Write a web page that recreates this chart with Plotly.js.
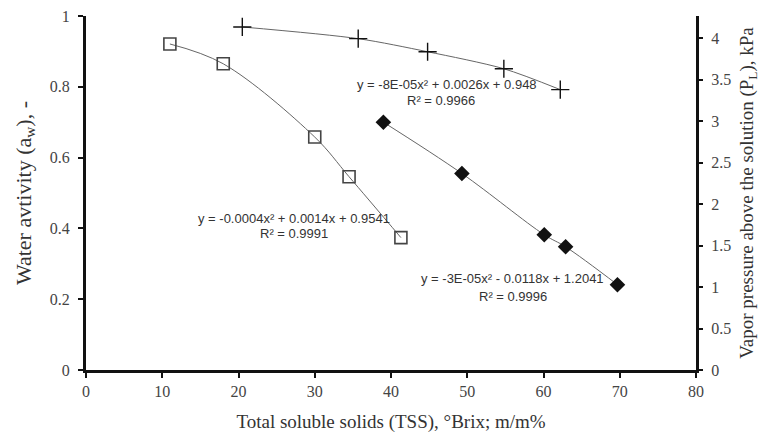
<!DOCTYPE html>
<html>
<head>
<meta charset="utf-8">
<script src="https://cdn.plot.ly/plotly-3.0.1.min.js"></script>
<style>html,body{margin:0;padding:0;background:#fff;}#chart{width:765px;height:436px;}</style>
</head>
<body>
<div id="chart"></div>
<script>
// Squares series (water activity)
const sqX = [11.0, 18.0, 30.0, 34.5, 41.3];
const sqY = [0.921, 0.865, 0.658, 0.546, 0.374];
// Crosses series
const crX = [20.5, 35.7, 44.8, 54.8, 62.2];
const crY = [0.969, 0.936, 0.899, 0.851, 0.792];
// Diamonds series
const dmX = [39.0, 49.3, 60.1, 62.9, 69.7];
const dmY = [0.700, 0.555, 0.382, 0.348, 0.241];

const xTicks = [0,10,20,30,40,50,60,70,80];
const yTicks = [0,0.2,0.4,0.6,0.8,1];
const y2Ticks = [0,0.5,1,1.5,2,2.5,3,3.5,4];

const serif = 'Liberation Serif';
const sans = 'Liberation Sans';

const traces = [
  {x: sqX, y: sqY, mode: 'lines+markers', line: {color: '#666', width: 1, shape: 'spline'},
   marker: {symbol: 'square-open', size: 12, color: '#444', line: {width: 1.6}}, showlegend: false},
  {x: crX, y: crY, mode: 'lines+markers', line: {color: '#666', width: 1, shape: 'spline', smoothing: 0.8},
   marker: {symbol: 'cross-thin-open', size: 13, color: '#111', line: {width: 1.4, color: '#111'}}, showlegend: false},
  {x: dmX, y: dmY, mode: 'lines+markers', line: {color: '#666', width: 1, shape: 'spline'},
   marker: {symbol: 'diamond', size: 12, color: '#111'}, showlegend: false},
  {x: [0], y: [0], yaxis: 'y2', mode: 'markers', marker: {opacity: 0}, hoverinfo: 'skip', showlegend: false}
];

const annotations = [
  {x: 294, y: 218, text: 'y = -0.0004x² + 0.0014x + 0.9541'},
  {x: 294, y: 233, text: 'R² = 0.9991'},
  {x: 447, y: 84, text: 'y = -8E-05x² + 0.0026x + 0.948'},
  {x: 441, y: 101, text: 'R² = 0.9966'},
  {x: 512, y: 278, text: 'y = -3E-05x² - 0.0118x + 1.2041'},
  {x: 513, y: 296, text: 'R² = 0.9996'}
].map(a => ({xref: 'paper', yref: 'paper', x: (a.x - 86) / 610, y: (370 - a.y) / 354,
  text: a.text, showarrow: false, font: {family: sans, size: 13, color: '#333'}, xanchor: 'center', yanchor: 'middle'}));

const tf = () => ({family: serif, size: 16, color: '#444'});
const ttf = (s) => ({family: serif, size: s, color: '#333'});

const layout = {
  width: 765, height: 436,
  margin: {l: 86, r: 69, t: 16, b: 66},
  paper_bgcolor: '#fff', plot_bgcolor: '#fff',
  font: {family: serif, size: 16},
  xaxis: {range: [0, 80], tickvals: xTicks, ticktext: xTicks.map(String), showgrid: false, zeroline: false,
    showline: true, linecolor: '#111', linewidth: 3, ticks: 'outside', ticklen: 5, tickwidth: 2, tickcolor: '#111',
    tickfont: tf(),
    title: {text: 'Total soluble solids (TSS), °Brix; m/m%', font: ttf(19), standoff: 16}},
  yaxis: {range: [0, 1], tickvals: yTicks, ticktext: yTicks.map(String), showgrid: false, zeroline: false,
    showline: true, linecolor: '#111', linewidth: 3, ticks: 'outside', ticklen: 5, tickwidth: 2, tickcolor: '#111',
    tickfont: tf(), ticklabelstandoff: 5,
    title: {text: 'Water avtivity (a<sub>w</sub>), -', font: ttf(22), standoff: 13}},
  yaxis2: {overlaying: 'y', side: 'right', range: [0, 4.265], tickvals: y2Ticks, ticktext: y2Ticks.map(String),
    showgrid: false, zeroline: false, showline: true, linecolor: '#111', linewidth: 3,
    ticks: 'outside', ticklen: 4, tickwidth: 2, tickcolor: '#111',
    tickfont: tf(), ticklabelstandoff: 5,
    title: {text: 'Vapor pressure above the solution (P<sub>L</sub>), kPa', font: ttf(19), standoff: 10}},
  annotations: annotations
};

Plotly.newPlot('chart', traces, layout, {displayModeBar: false, staticPlot: true});
</script>
</body>
</html>
